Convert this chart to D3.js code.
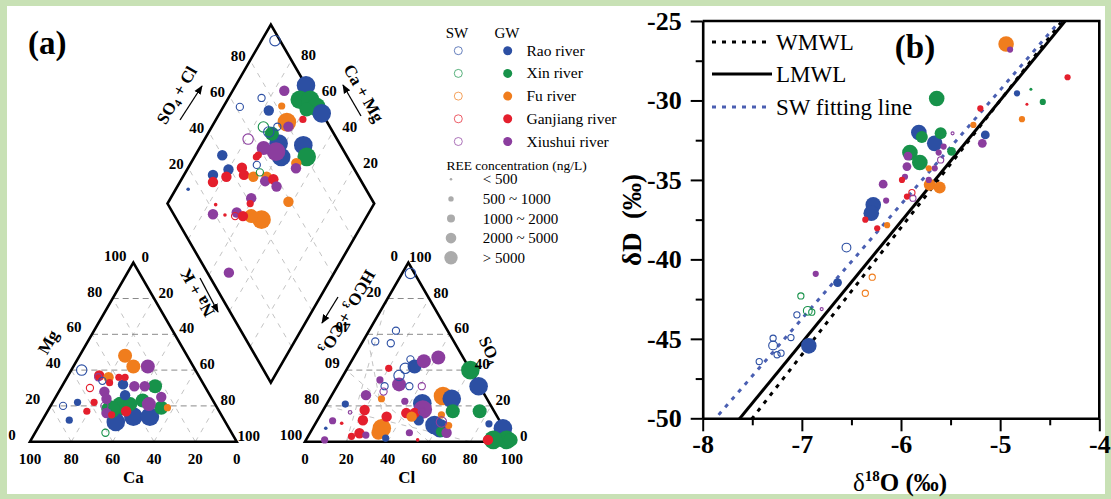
<!DOCTYPE html>
<html><head><meta charset="utf-8">
<script src="https://cdn.jsdelivr.net/npm/d3@7"></script>
<style>body{margin:0;background:#c8e1b5;} svg{display:block;}</style>
</head><body><svg id="c" width="1111" height="499"></svg>
<script>
// ---------------- data ----------------
const RIVERS = ["Rao river","Xin river","Fu river","Ganjiang river","Xiushui river"];
const COLORS = ["#2c4fa3","#17924a","#f07d1d","#e41f2d","#8b3d9e"];
const SIZE_LABELS = ["< 500","500 ~ 1000","1000 ~ 2000","2000 ~ 5000","> 5000"];
const SIZE_CLASSES = [1,2,3,4,5];
const TICKS = [0,20,40,60,80,100];
const TICKS_MID = [20,40,60,80];
const LINE_NAMES = ["WMWL","LMWL","SW fitting line"];
// rivers: 0 Rao, 1 Xin, 2 Fu, 3 Ganjiang, 4 Xiushui ; size class 1..5
// cation triangle: [Ca %, Mg %, river, type, size]
const cationPts = [
 [30,48,2,"GW",4],[29,42,2,"GW",4],[22,42,4,"GW",4],[55,40,0,"SW",3],[48,37,3,"GW",3],
 [44,36,2,"GW",3],[39,36,3,"GW",2],[36,36,3,"GW",2],[45,33,3,"GW",2],[56,30,3,"SW",2],
 [50,28,4,"GW",3],[39,32,0,"GW",3],[34,31,4,"GW",3],[29,31,4,"GW",3],[24,31,1,"GW",4],
 [51,24,4,"GW",3],[58,22,3,"GW",2],[66,22,0,"GW",2],[74,20,0,"SW",2],[64,17,3,"GW",2],
 [46,20,1,"GW",5],[34,23,1,"GW",4],[27,19,1,"GW",4],[24,19,2,"GW",2],[24,25,4,"GW",3],
 [53,11,0,"GW",5],[43,14,0,"GW",5],[35,14,0,"GW",5],[55,16,4,"GW",3],[45,17,3,"GW",3],
 [75,12,0,"GW",2],[61,5,1,"SW",2],[41,21,1,"GW",4],[41,26,0,"GW",3],[49,36,4,"SW",2],
 [48,34,0,"SW",2],[54,20,4,"SW",2],[52,18,1,"GW",5],[53,15,3,"GW",2],[32,21,4,"GW",4]
];
// anion triangle: [Cl %, SO4 %, river, type, size]
const anionPts = [
 [4,94,0,"SW",3],[13,62,0,"SW",2],[6,56,0,"SW",2],[14,55,0,"SW",2],[28,46,0,"SW",2],
 [28,41,0,"SW",3],[27,37,0,"SW",3],[35,31,0,"SW",2],[23,31,0,"SW",2],[32,42,0,"GW",4],
 [35,45,4,"GW",4],[41,47,4,"GW",4],[20,41,3,"GW",2],[29.5,32,4,"GW",4],[19,34.5,4,"GW",2],
 [41,31,4,"SW",2],[24,28,4,"SW",2],[16.5,26,4,"GW",3],[25,24,2,"GW",2],[9,21,0,"GW",2],
 [37,22.6,4,"GW",2],[54,25.5,2,"GW",5],[59,24,0,"GW",5],[46,21.5,0,"GW",5],[48,18,4,"GW",5],
 [48,17,4,"SW",2],[63,17,1,"GW",4],[60,40,1,"GW",5],[68.5,31,0,"GW",5],[76,17,1,"GW",4],
 [84,10,0,"GW",2],[92,7.5,0,"GW",5],[97,1,1,"GW",5],[90.6,1,1,"GW",5],[88,1,3,"GW",3],
 [99,1,1,"GW",4],[58,9.3,0,"GW",5],[61.6,7.5,0,"GW",5],[63,5.6,1,"GW",3],[66,5,4,"GW",3],
 [65,9,2,"GW",2],[60.5,11,4,"SW",3],[58.5,15,2,"GW",2],[33.4,7.5,2,"GW",5],[33,5,2,"GW",4],
 [32.5,14,3,"GW",3],[22,12,3,"GW",3],[24,4.7,3,"GW",3],[20,17.7,3,"GW",3],[7.5,11.7,4,"GW",2],
 [12.6,10.3,3,"GW",1],[6.3,7.5,0,"GW",1],[9,1,4,"GW",2],[21,3,3,"GW",2],[27.6,3.7,4,"GW",2],
 [41,16,3,"GW",3],[49,12,0,"GW",3],[48,5,4,"GW",2],[38,2,0,"GW",2],[54,1,3,"GW",1],
 [45,16,3,"GW",3],[44.6,14,2,"GW",3],[13.6,16.4,4,"SW",1]
];
// diamond: [SO4+Cl %, Ca+Mg %, river, type, size]
const diamondPts = [
 [97.5,93.5,0,"SW",3],[88,75,4,"GW",3],[100,66,0,"GW",5],[93,65,1,"GW",5],[98,60,1,"GW",5],
 [99,55,1,"GW",5],[99.8,50.6,0,"GW",5],[93.5,59,1,"GW",4],[62,92,0,"SW",2],[75,84,0,"SW",2],
 [75,77,0,"GW",3],[82.5,72,2,"GW",2],[80.5,65,2,"GW",5],[80,63,4,"GW",3],[89,58,3,"GW",2],
 [74.6,68.3,0,"SW",2],[67.8,75,1,"SW",3],[69,71,0,"SW",3],[70,69,1,"GW",4],[70.5,63,0,"GW",5],
 [68,58,0,"GW",5],[67,62,4,"GW",5],[62,69,4,"GW",4],[82,50.6,0,"GW",5],[80.4,45.7,1,"GW",5],
 [73.6,49,2,"GW",3],[72,47.7,4,"GW",3],[57,79,4,"SW",3],[57.5,69.6,3,"GW",2],[40,87,0,"GW",3],
 [30,86,0,"GW",3],[39,80,0,"GW",3],[28,84,3,"GW",3],[46,74,3,"GW",3],[45,71,3,"GW",3],
 [56,70,3,"GW",2],[14,94,0,"GW",1],[55.5,59.5,2,"GW",3],[53.5,59,4,"GW",3],[58,55.6,3,"GW",3],
 [57.5,52,4,"GW",3],[54,67.6,0,"SW",2],[53.4,64,1,"SW",2],[59,42,2,"GW",3],[36,79,3,"GW",3],
 [49,66,2,"GW",3],[23,76.4,3,"GW",1],[42,61,4,"GW",3],[40,60,3,"GW",2],[19,75,4,"GW",3],
 [24.6,69,3,"GW",1],[31,64,4,"GW",3],[29.2,63.8,3,"SW",2],[33,60,3,"GW",3],[37,56,2,"GW",4],
 [41,50,2,"GW",5],[10.4,51,4,"GW",3]
];
// panel b: [d18O, dD, river, type, size]
const isoPts = [
 [-4.94,-26.45,2,"GW",5],[-4.90,-26.8,4,"GW",2],[-4.32,-28.54,3,"GW",2],[-5.64,-29.88,1,"GW",5],
 [-4.83,-29.55,0,"GW",2],[-4.69,-29.3,1,"GW",1],[-4.73,-30.24,3,"GW",1],[-4.57,-30.09,1,"GW",2],
 [-4.78,-31.18,2,"GW",2],[-5.20,-30.5,3,"GW",2],[-5.27,-31.54,2,"GW",2],[-5.15,-32.17,0,"GW",3],
 [-5.18,-32.7,4,"GW",3],[-5.82,-32.02,0,"GW",5],[-5.79,-32.3,1,"GW",4],[-5.60,-32.06,1,"GW",4],
 [-5.66,-32.7,0,"GW",5],[-5.57,-32.9,4,"GW",2],[-5.48,-32.07,4,"SW",1],[-5.49,-33.2,1,"GW",3],
 [-5.91,-33.28,1,"GW",5],[-5.93,-33.5,4,"GW",3],[-5.81,-33.9,1,"GW",5],[-5.94,-34.16,4,"GW",3],
 [-5.62,-33.28,4,"GW",2],[-5.66,-34.27,4,"GW",2],[-5.72,-34.27,2,"GW",2],[-5.60,-33.74,4,"SW",2],
 [-5.96,-34.8,4,"GW",2],[-5.99,-35.0,3,"GW",2],[-5.71,-35.31,2,"GW",4],[-5.61,-35.48,2,"GW",4],
 [-5.72,-35.0,4,"GW",2],[-6.18,-35.27,4,"GW",3],[-6.15,-36.3,4,"GW",2],[-5.94,-36.05,3,"GW",2],
 [-5.89,-35.8,3,"SW",2],[-5.88,-36.15,4,"SW",2],[-6.28,-36.57,0,"GW",5],[-6.30,-37.1,0,"GW",5],
 [-6.36,-37.5,3,"GW",2],[-6.24,-38.04,3,"GW",2],[-6.14,-37.85,2,"GW",2],[-6.55,-39.26,0,"SW",3],
 [-6.86,-40.91,4,"GW",2],[-6.64,-41.46,0,"GW",3],[-6.29,-41.12,2,"SW",2],[-6.36,-42.13,2,"SW",2],
 [-7.01,-42.3,1,"SW",2],[-7.05,-43.49,0,"SW",2],[-6.94,-43.24,1,"SW",3],[-6.90,-43.32,1,"SW",2],
 [-6.80,-43.13,4,"SW",1],[-6.93,-45.44,0,"GW",5],[-7.11,-44.92,0,"SW",2],[-7.29,-44.96,0,"SW",2],
 [-7.29,-45.42,0,"SW",3],[-7.25,-46.0,0,"SW",2],[-7.21,-45.9,0,"SW",2],[-7.43,-46.43,0,"SW",2]
];
// meteoric water lines: [slope, intercept]
const lineParams = [[8,10],[7.62,8.1],[7.2,6.66]];
const xTicksB = [-8,-7,-6,-5,-4];
const yTicksB = [-50,-45,-40,-35,-30,-25];

// ---------------- setup ----------------
const FONT = "Liberation Serif, Times New Roman, serif";
const svg = d3.select("#c");
svg.append("rect").attr("width",1111).attr("height",499).attr("fill","#c8e1b5");
svg.append("rect").attr("x",7).attr("y",6).attr("width",1098).attr("height",488).attr("fill","#fff");
const defs = svg.append("defs");
defs.append("marker").attr("id","arr").attr("viewBox","0 0 10 10").attr("refX",9).attr("refY",5)
  .attr("markerWidth",7).attr("markerHeight",7).attr("orient","auto")
  .append("path").attr("d","M0,1 L10,5 L0,9 Z").attr("fill","#000");

const rPiper = d3.scaleOrdinal().domain(SIZE_CLASSES).range([1.8,3.6,5.2,7,9.3]);
const rIso = d3.scaleOrdinal().domain(SIZE_CLASSES).range([1.5,3.1,4.4,6,7.8]);
const rLegend = d3.scaleOrdinal().domain(SIZE_CLASSES).range([1.3,2.7,4,5.3,6.7]);

function drawPoints(g, data, pos, rs){
  const sorted = data.slice().sort((a,b)=> (a[3]===b[3]? b[4]-a[4] : (a[3]==="GW"?-1:1)));
  g.selectAll("circle.pt").data(sorted).enter().append("circle").attr("class","pt")
   .attr("cx",d=>pos(d)[0]).attr("cy",d=>pos(d)[1]).attr("r",d=>rs(d[4]))
   .attr("fill",d=>d[3]==="GW"?COLORS[d[2]]:"none")
   .attr("stroke",d=>d[3]==="GW"?"none":COLORS[d[2]])
   .attr("stroke-width",1.1);
}

// ---------------- panel a : Piper ----------------
const gap = 68.3/206.7;
const px = d3.scaleLinear().domain([0,1]).range([30,236.7]);
const py = d3.scaleLinear().domain([0,1]).range([441.7,262.7]);
const cat = (Ca,Mg)=>{const m=Mg/100,n=(100-Ca-Mg)/100;return [px(n+m/2),py(m)];};
const an = (Cl,S)=>{const s=S/100,c=Cl/100;return [px(1+gap+c+s/2),py(s)];};
const dia = (A,C)=>{const a=A/100,c=C/100;return [px(1+gap/2+0.5*a-0.5*c),py(gap+a+c)];};

const ga = svg.append("g");
const line = d3.line();
function seg(p,q,cls){
  const st = cls==="h"?{c:"#8a8a8a",d:"6,4"}:{c:"#c4c4c4",d:"5,6"};
  ga.append("path").attr("d",line([p,q])).attr("stroke",st.c).attr("stroke-dasharray",st.d)
    .attr("stroke-width",1).attr("fill","none");
}
// grids
TICKS_MID.forEach(k=>{
  seg(cat(100-k,k),cat(0,k),"h");
  seg(cat(k,0),cat(k,100-k),"d");
  seg(cat(100-k,0),cat(0,100-k),"d");
  seg(an(0,k),an(100-k,k),"h");
  seg(an(k,0),an(0,100-k),"d");
  seg(an(k,0),an(k,100-k),"d");
  seg(dia(k,0),dia(k,100),"d");
  seg(dia(0,k),dia(100,k),"d");
});
// frames
const frame = pts=>ga.append("path").attr("d",line(pts)+"Z").attr("fill","none")
   .attr("stroke","#000").attr("stroke-width",2.6).attr("stroke-linejoin","miter");
frame([cat(100,0),cat(0,100),cat(0,0)]);
frame([an(0,0),an(0,100),an(100,0)]);
frame([dia(0,0),dia(100,0),dia(100,100),dia(0,100)]);

// points
drawPoints(ga.append("g"), diamondPts, d=>dia(d[0],d[1]), rPiper);
drawPoints(ga.append("g"), cationPts, d=>cat(d[0],d[1]), rPiper);
drawPoints(ga.append("g"), anionPts, d=>an(d[0],d[1]), rPiper);

// tick labels
function lab(x,y,t,rot){
  const e = ga.append("text").attr("x",x).attr("y",y).attr("text-anchor","middle")
   .attr("dominant-baseline","central").attr("font-family",FONT).attr("font-weight","bold")
   .attr("font-size",15).text(t);
  if(rot) e.attr("transform",`rotate(${rot},${x},${y})`);
}
TICKS.forEach(v=>{
  let p;
  p=cat(v,0); lab(p[0],p[1]+17,v);
  p=cat(100-v,v); lab(p[0]-18,p[1]-7,v);
  p=cat(0,100-v); lab(p[0]+12,p[1]-6,v);
  p=an(v,0); lab(p[0],p[1]+17,v);
  p=an(0,100-v); lab(p[0]-(v===40?24:14),p[1]-7,v,(v===40||v===60)?180:0);
  p=an(100-v,v); lab(p[0]+12,p[1]-6,v);
});
TICKS_MID.forEach(v=>{
  let p=dia(v,100); lab(p[0]-12,p[1]-4,v);
  p=dia(100,v); lab(p[0]+17,p[1]-5,v);
});
// axis titles
function title(x,y,rot,parts,size){
  const t = ga.append("text").attr("transform",`translate(${x},${y}) rotate(${rot})`)
    .attr("text-anchor","middle").attr("dominant-baseline","central")
    .attr("font-family",FONT).attr("font-weight","bold").attr("font-size",size||17);
  let wasSub=false;
  parts.forEach(([s,sub])=>{
    const ts=t.append("tspan").text(s);
    if(sub){ts.attr("font-size",11).attr("dy",5); wasSub=true;}
    else { ts.attr("dy",wasSub?-5:0); wasSub=false; }
  });
}
title(133.3,477,0,[["Ca"]]);
title(406.7,477,0,[["Cl"]]);
title(48,342,-60,[["Mg"]]);
title(490,350,65,[["SO"],["4",1]]);
title(176.5,95,-60,[["SO"],["4",1],[" + Cl"]]);
title(364,93,60,[["Ca + Mg"]]);
title(197,293,-120,[["Na + K"]]);
title(348,312,120,[["HCO"],["3",1],[" + CO"],["3",1]]);
// arrows
[[[180,120],[202,86]],[[361,116],[343,85]],[[200,278],[218,312]],[[338,297],[322,323]]].forEach(a=>{
  ga.append("path").attr("d",line(a)).attr("stroke","#000").attr("stroke-width",1.3)
    .attr("marker-end","url(#arr)");
});
ga.append("text").attr("x",28).attr("y",54).attr("font-family",FONT).attr("font-weight","bold")
  .attr("font-size",33).text("(a)");

// legend a
const lg = svg.append("g").attr("font-family",FONT);
lg.append("text").attr("x",457).attr("y",38).attr("text-anchor","middle").attr("font-size",15).text("SW");
lg.append("text").attr("x",507).attr("y",38).attr("text-anchor","middle").attr("font-size",15).text("GW");
RIVERS.forEach((n,i)=>{
  const y = 50.7+i*22.7;
  lg.append("circle").attr("cx",458.3).attr("cy",y).attr("r",4).attr("fill","none")
    .attr("stroke",COLORS[i]).attr("stroke-width",0.9).attr("stroke-opacity",0.8);
  lg.append("circle").attr("cx",507.7).attr("cy",y).attr("r",4.5).attr("fill",COLORS[i]);
  lg.append("text").attr("x",526.5).attr("y",y+5).attr("font-size",15.5).text(n);
});
lg.append("text").attr("x",446.5).attr("y",170).attr("font-size",13.5).text("REE concentration (ng/L)");
SIZE_LABELS.forEach((n,i)=>{
  const y = 179.3+i*19.6;
  lg.append("circle").attr("cx",451).attr("cy",y).attr("r",rLegend(SIZE_CLASSES[i])).attr("fill","#ababab");
  lg.append("text").attr("x",482.7).attr("y",y+5).attr("font-size",15).text(n);
});

// ---------------- panel b ----------------
const gb = svg.append("g");
const xb = d3.scaleLinear().domain([-8,-4]).range([702.7,1099.3]);
const yb = d3.scaleLinear().domain([-50,-25]).range([418.3,21]);
defs.append("clipPath").attr("id","clipb").append("rect")
  .attr("x",702.7).attr("y",21).attr("width",396.6).attr("height",397.3);

const lineStyles = [{c:"#000",d:"4,6"},{c:"#000",d:null},{c:"#4a5fb2",d:"4,6"}];
const lg2 = gb.append("g").attr("clip-path","url(#clipb)");
lineParams.forEach(([m,b],i)=>{
  const pts = [-8.5,-3.8].map(x=>[xb(x),yb(m*x+b)]);
  const p = lg2.append("path").attr("d",line(pts)).attr("stroke",lineStyles[i].c)
    .attr("stroke-width",3).attr("fill","none");
  if(lineStyles[i].d) p.attr("stroke-dasharray",lineStyles[i].d);
});
drawPoints(gb.append("g"), isoPts, d=>[xb(d[0]),yb(d[1])], rIso);

// axes
function styleAxis(g){
  g.attr("font-family",FONT);
  g.select(".domain").attr("stroke-width",2.6);
  g.selectAll(".tick line").attr("stroke-width",2);
  g.selectAll("text").attr("font-family",FONT).attr("font-weight","bold").attr("font-size",26).attr("fill","#000");
}
const xMinor = d3.range(-7.5,-4,1);
const yMinor = d3.range(-47.5,-25,5);
gb.append("g").attr("transform","translate(0,418.3)")
  .call(d3.axisBottom(xb).tickValues(xMinor).tickSize(7).tickFormat(""))
  .call(g=>g.select(".domain").remove()).selectAll("line").attr("stroke-width",2);
gb.append("g").attr("transform","translate(702.7,0)")
  .call(d3.axisLeft(yb).tickValues(yMinor).tickSize(7).tickFormat(""))
  .call(g=>g.select(".domain").remove()).selectAll("line").attr("stroke-width",2);
gb.append("g").attr("transform","translate(0,418.3)")
  .call(d3.axisBottom(xb).tickValues(xTicksB).tickSize(13).tickSizeOuter(0).tickPadding(3)
    .tickFormat(d3.format("d")))
  .call(styleAxis);
gb.append("g").attr("transform","translate(702.7,0)")
  .call(d3.axisLeft(yb).tickValues(yTicksB).tickSize(12).tickSizeOuter(0).tickPadding(9)
    .tickFormat(d3.format("d")))
  .call(styleAxis);
gb.append("path").attr("d",line([[702.7,21],[1099.3,21],[1099.3,418.3]]))
  .attr("fill","none").attr("stroke","#000").attr("stroke-width",2.6);
gb.selectAll(".tick text").text(function(){return this.textContent.replace("−","-");});

// legend b
LINE_NAMES.forEach((n,i)=>{
  const y=[42,74,107][i];
  const p = gb.append("path").attr("d",line([[712,y],[772,y]])).attr("stroke",lineStyles[i].c)
    .attr("stroke-width",3);
  if(lineStyles[i].d) p.attr("stroke-dasharray",lineStyles[i].d);
  gb.append("text").attr("x",776).attr("y",y+8).attr("font-family",FONT).attr("font-size",23).text(n);
});
gb.append("text").attr("x",915).attr("y",58).attr("text-anchor","middle").attr("font-family",FONT)
  .attr("font-weight","bold").attr("font-size",33).text("(b)");
// axis titles
const xt = gb.append("text").attr("x",900).attr("y",491).attr("text-anchor","middle")
  .attr("font-family",FONT).attr("font-size",25);
xt.append("tspan").text("δ");
xt.append("tspan").attr("font-size",15).attr("dy",-10).attr("font-weight","bold").text("18");
xt.append("tspan").attr("dy",10).attr("font-weight","bold").text("O (‰)");
gb.append("text").attr("transform","translate(632,220) rotate(-90)").attr("text-anchor","middle")
  .attr("dominant-baseline","central").attr("font-family",FONT).attr("font-weight","bold")
  .attr("font-size",27).style("white-space","pre").text("δD  (‰)");
</script></body></html>
